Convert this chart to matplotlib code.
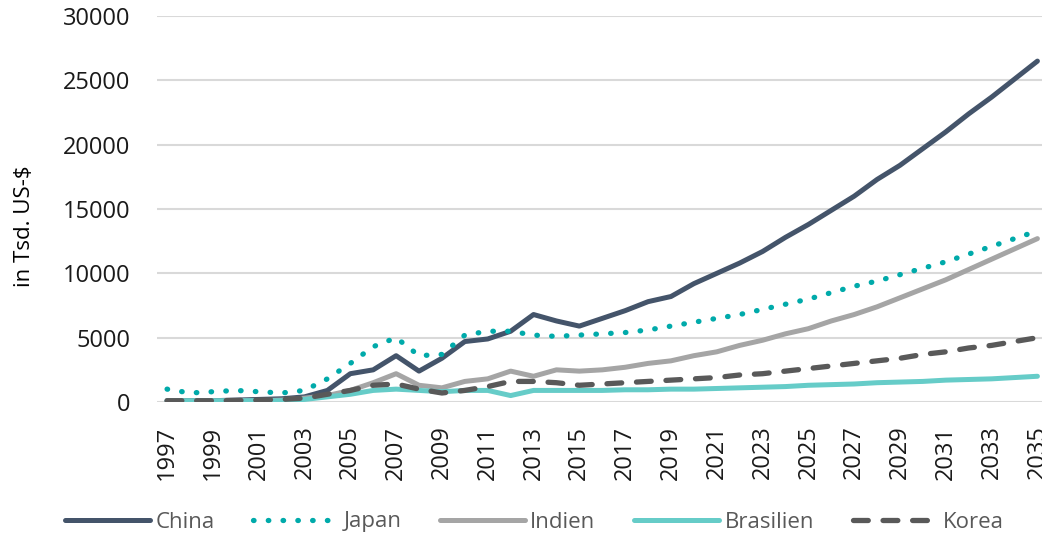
import numpy as np
import matplotlib
matplotlib.use("Agg")
import matplotlib.pyplot as plt

years = list(range(1997, 2036))

china = [100, 100, 100, 150, 200, 250, 400, 900, 2200, 2500, 3600, 2400, 3400, 4700,
         4900, 5500, 6800, 6300, 5900, 6500, 7100, 7800, 8200, 9200, 10000, 10800, 11700,
         12800, 13800, 14900, 16000, 17300, 18400, 19700, 21000, 22400, 23700, 25100, 26500]
japan = [1000, 700, 800, 900, 800, 700, 900, 1800, 3000, 4300, 5000, 3600, 3700, 5200,
         5500, 5500, 5200, 5100, 5200, 5300, 5400, 5600, 5900, 6200, 6500, 6800, 7200,
         7600, 8000, 8500, 9000, 9400, 9900, 10400, 10900, 11500, 12100, 12700, 13300]
indien = [50, 50, 50, 80, 100, 150, 300, 500, 900, 1500, 2200, 1300, 1100, 1600,
          1800, 2400, 2000, 2500, 2400, 2500, 2700, 3000, 3200, 3600, 3900, 4400, 4800,
          5300, 5700, 6300, 6800, 7400, 8100, 8800, 9500, 10300, 11100, 11900, 12700]
brasilien = [100, 100, 100, 100, 100, 100, 200, 400, 600, 900, 1000, 900, 800, 900,
             900, 500, 900, 900, 900, 900, 950, 950, 1000, 1000, 1050, 1100, 1150,
             1200, 1300, 1350, 1400, 1500, 1550, 1600, 1700, 1750, 1800, 1900, 2000]
korea = [100, 100, 100, 120, 150, 200, 300, 600, 900, 1300, 1400, 1000, 700, 900,
         1200, 1600, 1600, 1500, 1300, 1400, 1500, 1600, 1700, 1800, 1900, 2100, 2200,
         2400, 2600, 2800, 3000, 3200, 3400, 3700, 3900, 4200, 4400, 4700, 5000]

plt.rcParams["font.family"] = ["Open Sans", "DejaVu Sans"]
TXT = "#595959"

fig = plt.figure(figsize=(10.42, 5.36), dpi=100)
ax = fig.add_axes([157 / 1042, 0.25, 1 - 157 / 1042, 0.72])

ax.plot(years, china, color="#44546A", lw=3.6, solid_capstyle="round", label="China")
ax.plot(years, japan, color="#00AAAA", lw=3.8, linestyle=(0, (0.1, 2.7)),
        dash_capstyle="round", label="Japan")
ax.plot(years, indien, color="#A5A5A5", lw=3.6, solid_capstyle="round", label="Indien")
ax.plot(years, brasilien, color="#66CCC8", lw=3.6, solid_capstyle="round", label="Brasilien")
ax.plot(years, korea, color="#595959", lw=3.8, linestyle=(0, (2.8, 2.8)),
        dash_capstyle="round", label="Korea")

ax.set_xlim(1996.56, 2035.2)
ax.set_ylim(0, 30000)
ax.set_yticks(range(0, 30001, 5000))
ax.set_xticks(years[::2])
ax.set_xticklabels([str(y) for y in years[::2]], rotation=90)
ax.grid(axis="y", color="#D9D9D9", lw=1.5)
ax.set_axisbelow(True)
for sp in ax.spines.values():
    sp.set_visible(False)
ax.tick_params(length=0, labelsize=17, colors="#1a1a1a")
ax.tick_params(axis="y", pad=19)
ax.tick_params(axis="x", pad=17)

fig.text(25 / 1042, 1 - 226 / 536, "in Tsd. US-$", rotation=90, fontsize=16,
         ha="center", va="center", color="black")

fig.legend(loc="center", bbox_to_anchor=(0.513, 1 - 522 / 536), ncol=5, frameon=False,
           handlelength=3.8, columnspacing=1.75, handletextpad=0.25, fontsize=16,
           labelcolor=TXT)

fig.savefig("out.png", dpi=100)
